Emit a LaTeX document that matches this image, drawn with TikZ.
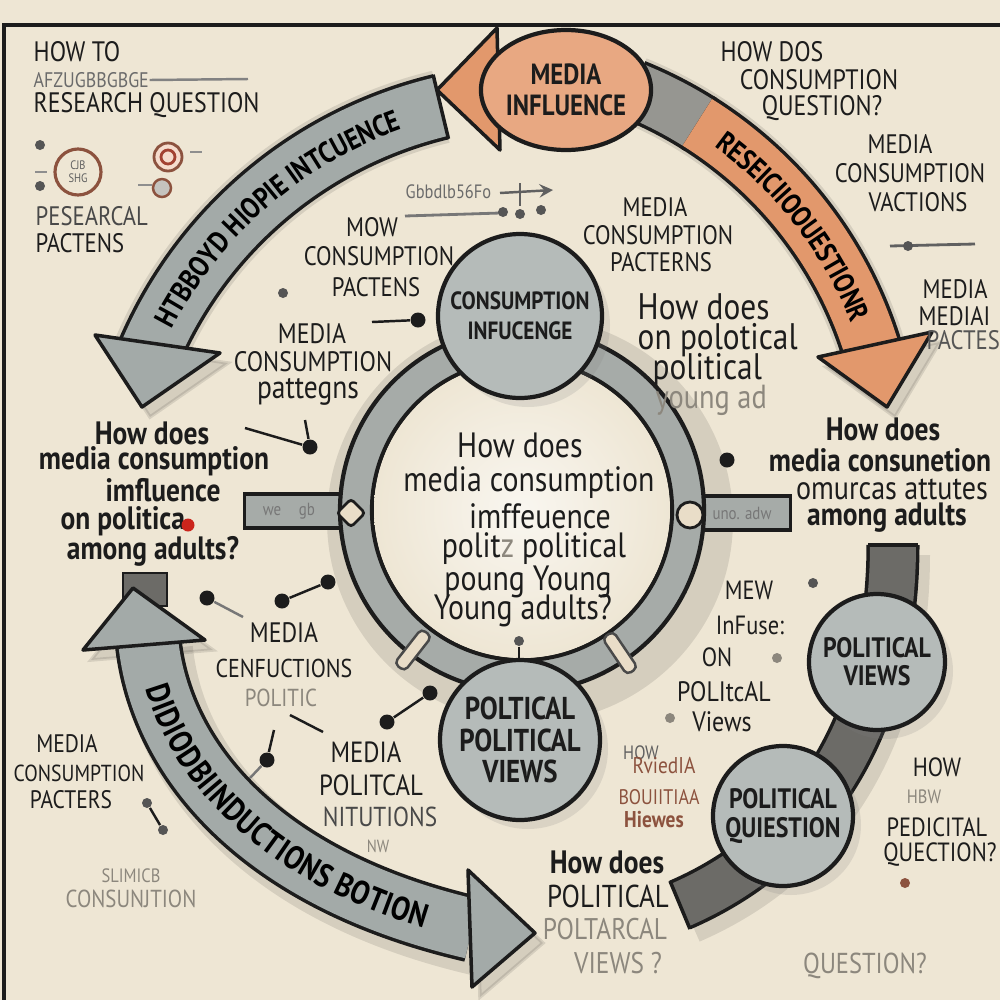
\documentclass[tikz,border=0pt]{standalone}
\usepackage{fontspec}
\setmainfont{PT Sans}
\newfontfamily\hand[FakeStretch=0.85]{PT Sans}
\usetikzlibrary{calc,decorations.text,shapes.geometric,shadows}
\definecolor{bg}{RGB}{238,230,212}
\definecolor{ink}{RGB}{28,28,28}
\definecolor{agray}{RGB}{163,170,168}
\definecolor{cgray}{RGB}{181,187,185}
\definecolor{rgray}{RGB}{166,171,168}
\definecolor{orng}{RGB}{226,152,108}
\definecolor{orngl}{RGB}{232,168,130}
\definecolor{hatch}{RGB}{150,150,145}
\definecolor{dkband}{RGB}{108,107,103}
\definecolor{tab}{RGB}{233,221,200}
\definecolor{faint}{RGB}{140,135,125}
\definecolor{brn}{RGB}{140,82,62}
\newcommand\arwfont{\hand\bfseries\fontsize{8.4}{8.4}\selectfont}
\newcommand\orgfont{\hand\bfseries\fontsize{8.3}{8.3}\selectfont}
\newcommand\botfont{\hand\bfseries\fontsize{9.4}{9.4}\selectfont}
\tikzset{
  lbl/.style={font=\hand\fontsize{#1}{#1}\selectfont, text=ink, inner sep=0pt},
  lbl/.default=8,
  bld/.style={font=\hand\bfseries\fontsize{#1}{#1}\selectfont, text=ink, inner sep=0pt},
  fnt/.style={lbl=#1, text=faint},
  pindot/.style={circle, fill=ink, inner sep=0pt, minimum size=1.5mm},
  dotsm/.style={circle, fill=ink!75, inner sep=0pt, minimum size=1mm},
  pinline/.style={draw=ink, line width=0.7pt},
  bubble/.style={circle, draw=ink, line width=1.2pt, fill=cgray, inner sep=0pt, align=center, text=ink,
     drop shadow={opacity=.18, shadow xshift=.8mm, shadow yshift=-.9mm}},
  band/.style={draw=ink, line width=1pt, double=#1, double distance=6mm},
  bandshadow/.style={draw=black, line width=#1, opacity=.1},
  headshape/.style={draw=ink, line width=1pt, fill=#1, line join=round},
  tabbox/.style={draw=ink!80, line width=0.7pt, fill=tab, rounded corners=0.5mm, minimum width=4.4mm, minimum height=1.3mm, inner sep=0pt},
  barbox/.style={draw=ink, line width=1pt, fill=rgray, inner sep=0pt},
}
\begin{document}
\begin{tikzpicture}[x=0.1mm,y=-0.1mm]
\useasboundingbox (0,0) rectangle (1000,1000);
\fill[bg] (0,0) rectangle (1000,1000);
\draw[ink, line width=1pt] (4,1000) -- (4,25) -- (1000,25);

\coordinate (CA) at (540,520);
\coordinate (CB) at (480,470);

% ---------- soft shadows of the bands ----------
\begin{scope}[shift={(8,10)}]
\draw[bandshadow=7.4mm] ($(CA)+(203:425)$) arc[start angle=-203, end angle=-256.5, radius=42.5mm];
\draw[bandshadow=6.8mm] ($(CB)+(-68:410)$) arc[start angle=68, end angle=17, radius=41mm];
\draw[bandshadow=7.4mm] (148,640) .. controls (160,760) and (260,880) .. (472,929);
\draw[bandshadow=5.8mm] (893,545) .. controls (893,700) and (830,840) .. (680,905);
\draw[bandshadow=1pt, fill=black, fill opacity=.1] (95,335) -- (220,353) -- (142,407) -- cycle;
\draw[bandshadow=1pt, fill=black, fill opacity=.1] (818,357) -- (932,332) -- (887,407) -- cycle;
\draw[bandshadow=1pt, fill=black, fill opacity=.1] (83,650) -- (205,640) -- (133,588) -- cycle;
\draw[bandshadow=1pt, fill=black, fill opacity=.1] (468,870) -- (472,987) -- (535,933) -- cycle;
\draw[bandshadow=7.4mm] (522,510) circle[radius=16.6mm];
\end{scope}

% ---------- top-left grey arrow ----------
\draw[band=agray] ($(CA)+(203:425)$) arc[start angle=-203, end angle=-256.5, radius=42.5mm];
\draw[ink, line width=1pt] ($(CA)+(256.5:392)$) -- ($(CA)+(256.5:458)$);
\coordinate (hA1) at (95,335); \coordinate (hA2) at (220,353); \coordinate (hA3) at (142,407);
\draw[headshape=agray] (hA1) -- (hA2) -- (hA3) -- cycle;
\path[decorate, decoration={text along path, text={|\arwfont|HTBBOYD HIOPIE INTCUENCE}, text align=center, raise=-3pt}]
  ($(CA)+(199:425)$) arc[start angle=-199, end angle=-259, radius=42.5mm];

% ---------- orange arrow ----------
\coordinate (hB1) at (437,90); \coordinate (hB2) at (497,28); \coordinate (hB3) at (500,150);
\draw[headshape=orng] (hB1) -- (hB2) -- (hB3) -- cycle;
\draw[band=hatch, double distance=5.5mm] ($(CB)+(-68:410)$) arc[start angle=68, end angle=57.5, radius=41mm];
\draw[band=orng, double distance=5.5mm] ($(CB)+(-58:410)$) arc[start angle=58, end angle=17, radius=41mm];
\coordinate (hC1) at (818,357); \coordinate (hC2) at (932,332); \coordinate (hC3) at (887,407);
\draw[headshape=orng] (hC1) -- (hC2) -- (hC3) -- cycle;
\path[decorate, decoration={text along path, text={|\orgfont|RESEICIIOOUESTIONR}, text align=center, raise=-3pt}]
  ($(CB)+(-60:410)$) arc[start angle=60, end angle=15.6, radius=41mm];

% ---------- bottom-left grey arrow ----------
\draw[fill=dkband, draw=ink, line width=.8pt] (123,573) rectangle (167,606);
\draw[band=agray] (148,640) .. controls (160,760) and (260,880) .. (472,929);
\coordinate (hD1) at (83,650); \coordinate (hD2) at (205,640); \coordinate (hD3) at (133,588);
\draw[headshape=agray] (hD1) -- (hD2) -- (hD3) -- cycle;
\coordinate (hE1) at (468,870); \coordinate (hE2) at (472,987); \coordinate (hE3) at (535,933);
\draw[headshape=agray] (hE1) -- (hE2) -- (hE3) -- cycle;
\path[decorate, decoration={text along path, text={|\botfont|DIDIODBIINDUCTIONS BOTION}, text align=center, raise=-3.3pt}]
  (148,640) .. controls (160,760) and (260,880) .. (472,929);

% ---------- dark band on the right ----------
\draw[band=dkband, double distance=4.6mm] (893,545) .. controls (893,700) and (830,840) .. (680,905);
\draw[ink, line width=1pt] (868,545) -- (918,545);
\draw[ink, line width=1pt] (670,881) -- (690,929);

% ---------- ring with bars ----------
\node[barbox, minimum width=10.5mm, minimum height=3.4mm] (barL) at (297,511) {};
\node[barbox, minimum width=9.5mm, minimum height=3.4mm] (barR) at (743,513) {};
\draw[ink, line width=1.2pt, fill=rgray, even odd rule] (522,510) circle[radius=18.2mm] (522,510) circle[radius=15mm];
\shade[inner color=bg!35!white, outer color=bg] (522,510) circle[radius=14.8mm];
\draw[ink, line width=.8pt, fill=tab, rounded corners=1pt] (337,513) -- (351,499) -- (365,513) -- (351,527) -- cycle;
\draw[ink, line width=.8pt, fill=tab] (690,515) circle[radius=1.3mm];
\node[lbl=5, text=ink!60] (bl1) at (272,511) {we};
\node[lbl=5, text=ink!60] (bl2) at (307,511) {gb};
\node[lbl=5, text=ink!60] (br1) at (742,513) {uno. adw};
\node[tabbox, rotate=52] (tabL) at (413,650) {};
\node[tabbox, rotate=-56] (tabR) at (620,653) {};

% ---------- circles ----------
\node[bubble, minimum size=16.4mm, font=\hand\bfseries\fontsize{7.1}{8.5}\selectfont] (cTop) at (520,316) {CONSUMPTION\\INFUCENGE};
\node[bubble, minimum size=16mm, font=\hand\bfseries\fontsize{9}{9}\selectfont] (cBot) at (520,740) {POLTICAL\\POLITICAL\\VIEWS};
\node[bubble, minimum size=13.6mm, font=\hand\bfseries\fontsize{8}{8}\selectfont] (cPV) at (877,662) {POLITICAL\\VIEWS};
\node[bubble, minimum size=14mm, font=\hand\bfseries\fontsize{8}{8.5}\selectfont] (cPQ) at (783,816) {POLITICAL\\QUIESTION};
\node[ellipse, draw=ink, line width=1.2pt, fill=orngl, minimum width=14.4mm, minimum height=12mm, inner sep=0pt, align=center,
      font=\hand\bfseries\fontsize{8.3}{8.8}\selectfont, text=ink] (eMI) at (566,90) {MEDIA\\INFLUENCE};

% ---------- top-left texts ----------
\node[lbl=8, anchor=west] (t01) at (33,52) {HOW TO};
\node[lbl=6, anchor=west, text=ink!65] (t02) at (33,80) {AFZUGBBGBGE};
\coordinate (t02e) at (248,79);
\draw[ink!55, line width=.7pt] (t02.east) -- (t02e);
\node[lbl=8, anchor=west] (t03) at (33,105) {RESEARCH QUESTION};
\node[circle, draw=brn, line width=.9pt, minimum size=4.6mm, inner sep=0pt, align=center, font=\hand\fontsize{3.5}{3.8}\selectfont, text=ink!70] (ic1) at (78,172) {CJB\\SHG};
\node[circle, draw=brn, line width=.8pt, fill=orngl!40, minimum size=2.8mm, inner sep=0pt] (ic2) at (168,157) {};
\node[circle, draw=brn!80!red, line width=.8pt, minimum size=1.4mm, inner sep=0pt] (ic2b) at (168,157) {};
\node[circle, draw=brn, line width=.7pt, fill=faint!50, minimum size=1.8mm, inner sep=0pt] (ic3) at (162,188) {};
\draw[ink!50, line width=.8pt] (35,172) -- (47,172);
\draw[ink!50, line width=.8pt] (190,152) -- (202,152);
\draw[ink!50, line width=.8pt] (138,185) -- (152,185);
\node[dotsm] (d01) at (40,145) {};
\node[dotsm] (d02) at (40,186) {};
\node[lbl=7.6, anchor=west, text=ink!80] (t04) at (35,216) {PESEARCAL};
\node[lbl=7.6, anchor=west] (t05) at (35,243) {PACTENS};

% ---------- top middle ----------
\node[lbl=7.6] (t06) at (372,227) {MOW};
\node[lbl=7.6] (t07) at (379,256) {CONSUMPTION};
\node[lbl=7.6] (t08) at (376,287) {PACTENS};
\node[lbl=5.5, anchor=west, text=ink!65] (t09) at (405,192) {Gbbdlb56Fo};
\coordinate (s1a) at (405,216); \coordinate (s1b) at (500,213);
\draw[ink!60, line width=.8pt] (s1a) -- (s1b);
\coordinate (s2a) at (500,193); \coordinate (s2b) at (553,190);
\draw[ink!70, line width=.7pt, -stealth] (s2a) -- (s2b);
\coordinate (s3a) at (520,183); \coordinate (s3b) at (520,206);
\draw[ink!70, line width=.7pt] (s3a) -- (s3b);
\node[dotsm] (d03) at (503,212) {};
\node[dotsm] (d04) at (520,214) {};
\node[dotsm] (d05) at (541,210) {};
\node[lbl=7.6] (t10) at (655,207) {MEDIA};
\node[lbl=7.6] (t11) at (658,235) {CONSUMPTION};
\node[lbl=7.6] (t12) at (661,262) {PACTERNS};

% ---------- top right ----------
\node[lbl=8] (t13) at (772,52) {HOW DOS};
\node[lbl=8] (t14) at (819,80) {CONSUMPTION};
\node[lbl=8] (t15) at (822,108) {QUESTION?};
\node[lbl=7.6] (t16) at (900,144) {MEDIA};
\node[lbl=7.6] (t17) at (910,173) {CONSUMPTION};
\node[lbl=7.6] (t18) at (918,202) {VACTIONS};
\coordinate (s4a) at (890,246); \coordinate (s4b) at (975,244);
\draw[ink!70, line width=.8pt] (s4a) -- (s4b);
\node[dotsm] (d06) at (908,246) {};
\node[lbl=7.6, anchor=west] (t19) at (922,289) {MEDIA};
\node[lbl=7.6, anchor=west] (t20) at (918,316) {MEDIAI};
\node[lbl=7.6, anchor=west, text=ink!75] (t21) at (926,340) {PACTES};
\node[lbl=10.5, anchor=west] (t22) at (637,307) {How does};
\node[lbl=10.5, anchor=west] (t23) at (637,340) {on polotical};
\node[lbl=10.5, anchor=west] (t24) at (652,370) {political};
\node[fnt=9.5, anchor=west] (t25) at (655,400) {young ad};

% ---------- left ----------
\node[lbl=8] (t26) at (312,334) {MEDIA};
\node[lbl=8] (t27) at (313,362) {CONSUMPTION};
\node[lbl=9.2] (t28) at (308,392) {pattegns};
\node[bld=9.2] (t29) at (152,433) {How does};
\node[bld=9.2] (t30) at (154,461) {media consumption};
\node[bld=9.2] (t31) at (163,490) {imfluence};
\node[bld=9.2, anchor=west] (t32) at (60,521) {on politica};
\node[circle, fill=red!55!brn, inner sep=0pt, minimum size=1.3mm] (d07) at (188,525) {};
\node[bld=9.2] (t33) at (153,551) {among adults?};

% ---------- centre ----------
\node[lbl=10] (t34) at (520,445) {How does};
\node[lbl=10] (t35) at (529,483) {media consumption};
\node[lbl=10] (t36) at (540,516) {imffeuence};
\node[lbl=10] (t37) at (534,549) {polit\textcolor{faint}{z} political};
\node[lbl=10] (t38) at (528,582) {poung Young};
\node[lbl=10] (t39) at (523,611) {Young adults?};

% ---------- right ----------
\node[bld=9.2] (t40) at (883,429) {How does};
\node[bld=9.2] (t41) at (880,460) {media consunetion};
\node[lbl=9.4] (t42) at (892,489) {omurcas attutes};
\node[bld=9.2] (t43) at (887,518) {among adults};
\node[lbl=7.5] (t44) at (749,590) {MEW};
\node[lbl=7.5] (t45) at (750,625) {InFuse:};
\node[lbl=7.5] (t46) at (717,657) {ON};
\node[lbl=8] (t47) at (724,692) {POLItcAL};
\node[lbl=8] (t48) at (722,722) {Views};
\node[lbl=5.5, text=ink!70] (t49) at (641,753) {HOW};
\node[lbl=6.5, text=brn] (t50) at (664,766) {RviedIA};
\node[lbl=6, text=brn] (t51) at (659,797) {BOUIITIAA};
\node[bld=6.5, text=brn] (t52) at (654,820) {Hiewes};
\node[bld=9.2] (t53) at (607,862) {How does};
\node[lbl=9] (t54) at (608,896) {POLITICAL};
\node[fnt=8.5] (t55) at (605,929) {POLTARCAL};
\node[fnt=8.5] (t56) at (618,963) {VIEWS ?};
\node[lbl=7.5] (t57) at (937,767) {HOW};
\node[fnt=5.5] (t58) at (924,797) {HBW};
\node[lbl=7.5] (t59) at (937,827) {PEDICITAL};
\node[lbl=7.5] (t60) at (940,855) {QUECTION?};
\node[fnt=8.2] (t61) at (865,966) {QUESTION?};

% ---------- bottom left ----------
\node[lbl=8] (t62) at (284,633) {MEDIA};
\node[lbl=7.35] (t63) at (284,668) {CENFUCTIONS};
\node[fnt=7] (t64) at (281,698) {POLITIC};
\node[lbl=8.3] (t65) at (366,752) {MEDIA};
\node[lbl=8.3] (t66) at (371,785) {POLITCAL};
\node[lbl=7.8, text=ink!80] (t67) at (380,817) {NITUTIONS};
\node[fnt=5] (t68) at (378,846) {NW};
\node[lbl=7.2] (t69) at (67,744) {MEDIA};
\node[lbl=6.6] (t70) at (79,773) {CONSUMPTION};
\node[lbl=7.2] (t71) at (71,800) {PACTERS};
\node[fnt=5.5] (t72) at (131,876) {SLIMICB};
\node[fnt=7] (t73) at (131,899) {CONSUNJTION};

% ---------- pins and little connectors ----------
\node[pindot] (p1) at (418,320) {};
\coordinate (p1a) at (372,322);
\draw[pinline] (p1a) -- (p1);
\node[dotsm] (p2) at (283,293) {};
\node[pindot] (p3) at (310,447) {};
\coordinate (p3a) at (245,428); \coordinate (p3b) at (305,420);
\draw[pinline] (p3a) -- (p3); \draw[pinline] (p3b) -- (p3);
\node[pindot] (p4) at (207,598) {};
\coordinate (p4a) at (243,617);
\draw[pinline, ink!60] (p4) -- (p4a);
\node[pindot] (p5a) at (282,601) {}; \node[pindot] (p5b) at (328,582) {};
\draw[pinline] (p5a) -- (p5b);
\coordinate (p6a) at (290,715); \coordinate (p6b) at (323,732);
\draw[pinline] (p6a) -- (p6b);
\node[pindot] (p7) at (267,760) {};
\coordinate (p7a) at (274,730); \coordinate (p7b) at (250,778);
\draw[pinline] (p7a) -- (p7); \draw[pinline, ink!60] (p7) -- (p7b);
\node[pindot] (p8a) at (387,722) {}; \node[pindot] (p8b) at (430,693) {};
\draw[pinline] (p8a) -- (p8b);
\node[dotsm] (p9a) at (147,803) {}; \node[dotsm] (p9b) at (163,830) {};
\draw[pinline] (p9a) -- (p9b);
\node[pindot] (p10) at (727,460) {};
\node[dotsm] (p11) at (519,641) {};
\coordinate (p11a) at (519,658);
\draw[pinline] (p11) -- (p11a);
\node[dotsm] (p12) at (813,583) {};
\node[dotsm, fill=faint] (p13) at (777,658) {};
\node[dotsm, fill=faint] (p14) at (670,718) {};
\node[dotsm, fill=brn] (p15) at (905,883) {};
\end{tikzpicture}
\end{document}
